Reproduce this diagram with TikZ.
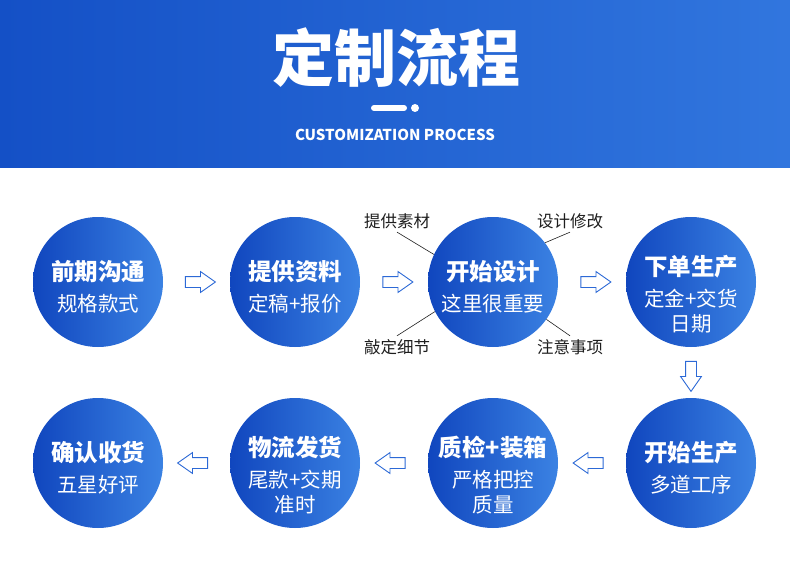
\documentclass[tikz,border=0pt]{standalone}
\usepackage{fontspec}
\setmainfont{Noto Sans CJK SC}
\usetikzlibrary{shapes.arrows,calc,positioning}
\definecolor{headl}{HTML}{1450C6}
\definecolor{headr}{HTML}{3176DE}
\definecolor{balll}{HTML}{1046BE}
\definecolor{ballr}{HTML}{3B82E3}
\definecolor{arrowline}{HTML}{2C69D6}
\definecolor{ink}{HTML}{1E1E1E}
\newcommand\steptitle[1]{{\bfseries\fontsize{23.5}{27}\selectfont #1}}

\begin{document}
\begin{tikzpicture}[x=1pt,y=-1pt,
  ball/.style={circle,minimum size=130pt,inner sep=0pt,left color=balll,right color=ballr},
  balltext/.style={text=white,align=center,font=\fontsize{20.5}{25}\selectfont},
  stepar/.style={single arrow,draw=arrowline,fill=white,line width=.9pt,
    minimum height=30pt,minimum width=0pt,single arrow head extend=5pt,
    single arrow tip angle=70,inner sep=5pt},
  note/.style={font=\fontsize{16.5}{18}\selectfont,text=ink},
  pin/.style={draw=ink,line width=.6pt}
]
\useasboundingbox (0,0) rectangle (790,583);
% Title band.
\shade[left color=headl,right color=headr] (0,0) rectangle (790,168);
\node[text=white,font=\bfseries\fontsize{62}{64}\selectfont] (title) at (396,58) {定制流程};
\draw[white,line width=6pt,line cap=round] (374,108) -- (404,108);
\fill[white] (415,108) circle (4);
\node[text=white,font=\bfseries\fontsize{15}{17}\selectfont] (subtitle) at (395,135) {CUSTOMIZATION PROCESS};
% First row, left to right.
\node[ball] (talk) at (98,282) {};
\node[balltext] (talk-t) at ($(talk)+(0,5)$) {\steptitle{前期沟通}\\[6pt]规格款式};
\node[ball] (material) at (295,282) {};
\node[balltext] (material-t) at ($(material)+(0,5)$) {\steptitle{提供资料}\\[6pt]定稿+报价};
\node[ball] (design) at (493,282) {};
\node[balltext] (design-t) at ($(design)+(0,5)$) {\steptitle{开始设计}\\[6pt]这里很重要};
\node[ball] (order) at (691,282) {};
\node[balltext] (order-t) at ($(order)+(0,12)$) {\steptitle{下单生产}\\[6pt]定金+交货\\日期};
\node[stepar] (a1) at ($(talk)!.5!(material)$) {};
\node[stepar] (a2) at ($(material)!.5!(design)$) {};
\node[stepar] (a3) at ($(design)!.5!(order)$) {};
% Notes round the design step.
\node[note] (n1) at (397,221) {提供素材};
\node[note] (n2) at (570,221) {设计修改};
\node[note] (n3) at (397,347) {敲定细节};
\node[note] (n4) at (570,347) {注意事项};
\draw[pin] (design.155) -- (n1.south);
\draw[pin] (design.37) -- (n2.south);
\draw[pin] (design.207) -- (n3.north);
\draw[pin] (design.325) -- (n4.north);
% Second row, right to left.
\node[ball] (produce) at (691,463) {};
\node[balltext] (produce-t) at ($(produce)+(0,5)$) {\steptitle{开始生产}\\[6pt]多道工序};
\node[ball] (check) at (493,463) {};
\node[balltext] (check-t) at ($(check)+(0,12)$) {\steptitle{质检+装箱}\\[6pt]严格把控\\质量};
\node[ball] (ship) at (295,463) {};
\node[balltext] (ship-t) at ($(ship)+(0,12)$) {\steptitle{物流发货}\\[6pt]尾款+交期\\准时};
\node[ball] (receive) at (98,463) {};
\node[balltext] (receive-t) at ($(receive)+(0,5)$) {\steptitle{确认收货}\\[6pt]五星好评};
\node[stepar,shape border rotate=270] (a4) at ($(order)!.5!(produce)$) {};
\node[stepar,shape border rotate=180] (a5) at ($(produce)!.5!(check)$) {};
\node[stepar,shape border rotate=180] (a6) at ($(check)!.5!(ship)$) {};
\node[stepar,shape border rotate=180] (a7) at ($(ship)!.5!(receive)$) {};
\end{tikzpicture}
\end{document}
